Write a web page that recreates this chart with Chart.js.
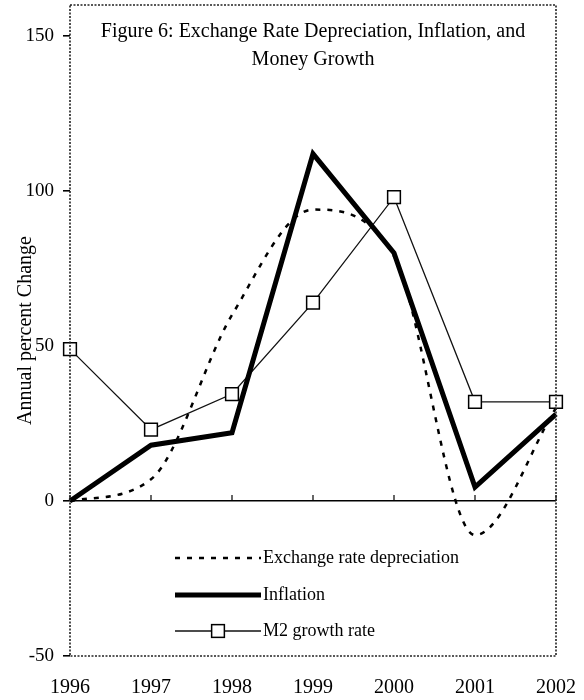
<!DOCTYPE html>
<html>
<head>
<meta charset="utf-8">
<script src="https://cdn.jsdelivr.net/npm/chart.js@4/dist/chart.umd.min.js"></script>
<style>
  html, body { margin: 0; padding: 0; background: #fff; }
  #wrap { width: 584px; height: 700px; }
</style>
</head>
<body>
<div id="wrap"><canvas id="chart" width="584" height="700"></canvas></div>
<script>
// Annual percent changes, 1996-2002
const years = ['1996', '1997', '1998', '1999', '2000', '2001', '2002'];
const exchangeDepreciation = [0, 7, 60, 94, 79, -11, 30];
const inflation = [0, 18, 22, 112, 80, 4.5, 28];
const m2Growth = [49, 23, 34.5, 64, 98, 32, 32];

const yTicks = [-50, 0, 50, 100, 150];
const titleLines = ['Figure 6: Exchange Rate Depreciation, Inflation, and', 'Money Growth'];
const seriesNames = ['Exchange rate depreciation', 'Inflation', 'M2 growth rate'];
const yTitle = 'Annual percent Change';

const SERIF = '"Liberation Serif", "Times New Roman", serif';

// Title written inside the top of the plot area
const insideTitle = {
  id: 'insideTitle',
  afterDraw(chart) {
    const { ctx, chartArea: a } = chart;
    ctx.save();
    ctx.font = '20px ' + SERIF;
    ctx.fillStyle = '#000';
    ctx.textAlign = 'center';
    ctx.textBaseline = 'middle';
    const cx = (a.left + a.right) / 2;
    titleLines.forEach((line, i) => ctx.fillText(line, cx, a.top + 27 + i * 28));
    ctx.restore();
  }
};

// Dotted frame round the plot area and year ticks on the zero line
const frame = {
  id: 'frame',
  beforeDatasetsDraw(chart) {
    const { ctx, scales: { x, y } } = chart;
    const y0 = y.getPixelForValue(0);
    ctx.save();
    ctx.strokeStyle = '#000';
    ctx.lineWidth = 1.2;
    years.forEach((_, i) => {
      const px = x.getPixelForValue(i);
      ctx.beginPath();
      ctx.moveTo(px, y0);
      ctx.lineTo(px, y0 - 6);
      ctx.stroke();
    });
    ctx.restore();
  },
  afterDraw(chart) {
    const { ctx, chartArea: a } = chart;
    ctx.save();
    ctx.strokeStyle = '#222';
    ctx.lineWidth = 1.6;
    ctx.setLineDash([2, 1.5]);
    ctx.strokeRect(a.left, a.top, a.right - a.left, a.bottom - a.top);
    ctx.restore();
  }
};

// Legend drawn in the lower part of the plot area, using each dataset's style
const innerLegend = {
  id: 'innerLegend',
  afterDraw(chart) {
    const { ctx, chartArea: a } = chart;
    const x0 = a.left + 105;
    const len = 86;
    const rowY = [a.top + 553, a.top + 590, a.top + 626];
    ctx.save();
    chart.data.datasets.forEach((ds, i) => {
      const yy = rowY[i];
      ctx.strokeStyle = ds.borderColor;
      ctx.lineWidth = ds.borderWidth;
      ctx.setLineDash(ds.borderDash || []);
      ctx.beginPath();
      ctx.moveTo(x0, yy);
      ctx.lineTo(x0 + len, yy);
      ctx.stroke();
      ctx.setLineDash([]);
      if (ds.pointStyle === 'rect' && ds.pointRadius > 0) {
        const s = ds.pointRadius / Math.SQRT2;
        const cx = x0 + len / 2;
        ctx.fillStyle = ds.pointBackgroundColor;
        ctx.strokeStyle = ds.pointBorderColor;
        ctx.lineWidth = ds.pointBorderWidth;
        ctx.fillRect(cx - s, yy - s, 2 * s, 2 * s);
        ctx.strokeRect(cx - s, yy - s, 2 * s, 2 * s);
      }
      ctx.fillStyle = '#000';
      ctx.font = '18px ' + SERIF;
      ctx.textAlign = 'left';
      ctx.textBaseline = 'middle';
      ctx.fillText(ds.label, x0 + len + 2, yy);
    });
    ctx.restore();
  }
};

new Chart(document.getElementById('chart'), {
  type: 'line',
  data: {
    labels: years,
    datasets: [
      {
        label: seriesNames[0],
        data: exchangeDepreciation,
        borderColor: '#000',
        borderWidth: 2.5,
        borderDash: [5, 7],
        cubicInterpolationMode: 'monotone',
        pointRadius: 0,
        fill: false
      },
      {
        label: seriesNames[1],
        data: inflation,
        borderColor: '#000',
        borderWidth: 5,
        tension: 0,
        pointRadius: 0,
        fill: false
      },
      {
        label: seriesNames[2],
        data: m2Growth,
        borderColor: '#111',
        borderWidth: 1.3,
        tension: 0,
        pointStyle: 'rect',
        pointRadius: 9,
        pointBackgroundColor: '#fff',
        pointBorderColor: '#000',
        pointBorderWidth: 1.5,
        clip: false,
        fill: false
      }
    ]
  },
  options: {
    responsive: false,
    animation: false,
    devicePixelRatio: 1,
    layout: { autoPadding: false, padding: { top: 5, right: 28, left: 0, bottom: 0 } },
    plugins: {
      legend: { display: false },
      title: { display: false },
      tooltip: { enabled: false }
    },
    scales: {
      x: {
        type: 'category',
        offset: false,
        border: { display: false },
        grid: { display: false, drawTicks: false },
        ticks: {
          color: '#000',
          font: { family: SERIF, size: 20 },
          padding: 20,
          maxRotation: 0,
          autoSkip: false
        },
        afterFit(scale) {
          scale.height = 44;
          scale.paddingLeft = 0;
          scale.paddingRight = 0;
        }
      },
      y: {
        min: -50,
        max: 160,
        afterBuildTicks(scale) {
          scale.ticks = yTicks.map(v => ({ value: v }));
        },
        border: { display: false },
        grid: {
          drawOnChartArea: true,
          drawTicks: true,
          tickLength: 7,
          tickColor: '#000',
          lineWidth: 1.6,
          color: ctx => (ctx.tick && ctx.tick.value === 0) ? '#000' : 'rgba(0,0,0,0)'
        },
        ticks: {
          color: '#000',
          font: { family: SERIF, size: 19 },
          padding: 9
        },
        title: {
          display: true,
          text: yTitle,
          color: '#000',
          font: { family: SERIF, size: 20 },
          padding: { top: 14, bottom: 0 }
        },
        afterFit(scale) {
          scale.width = 70;
          scale.paddingTop = 0;
          scale.paddingBottom = 0;
        }
      }
    }
  },
  plugins: [frame, insideTitle, innerLegend]
});
</script>
</body>
</html>
